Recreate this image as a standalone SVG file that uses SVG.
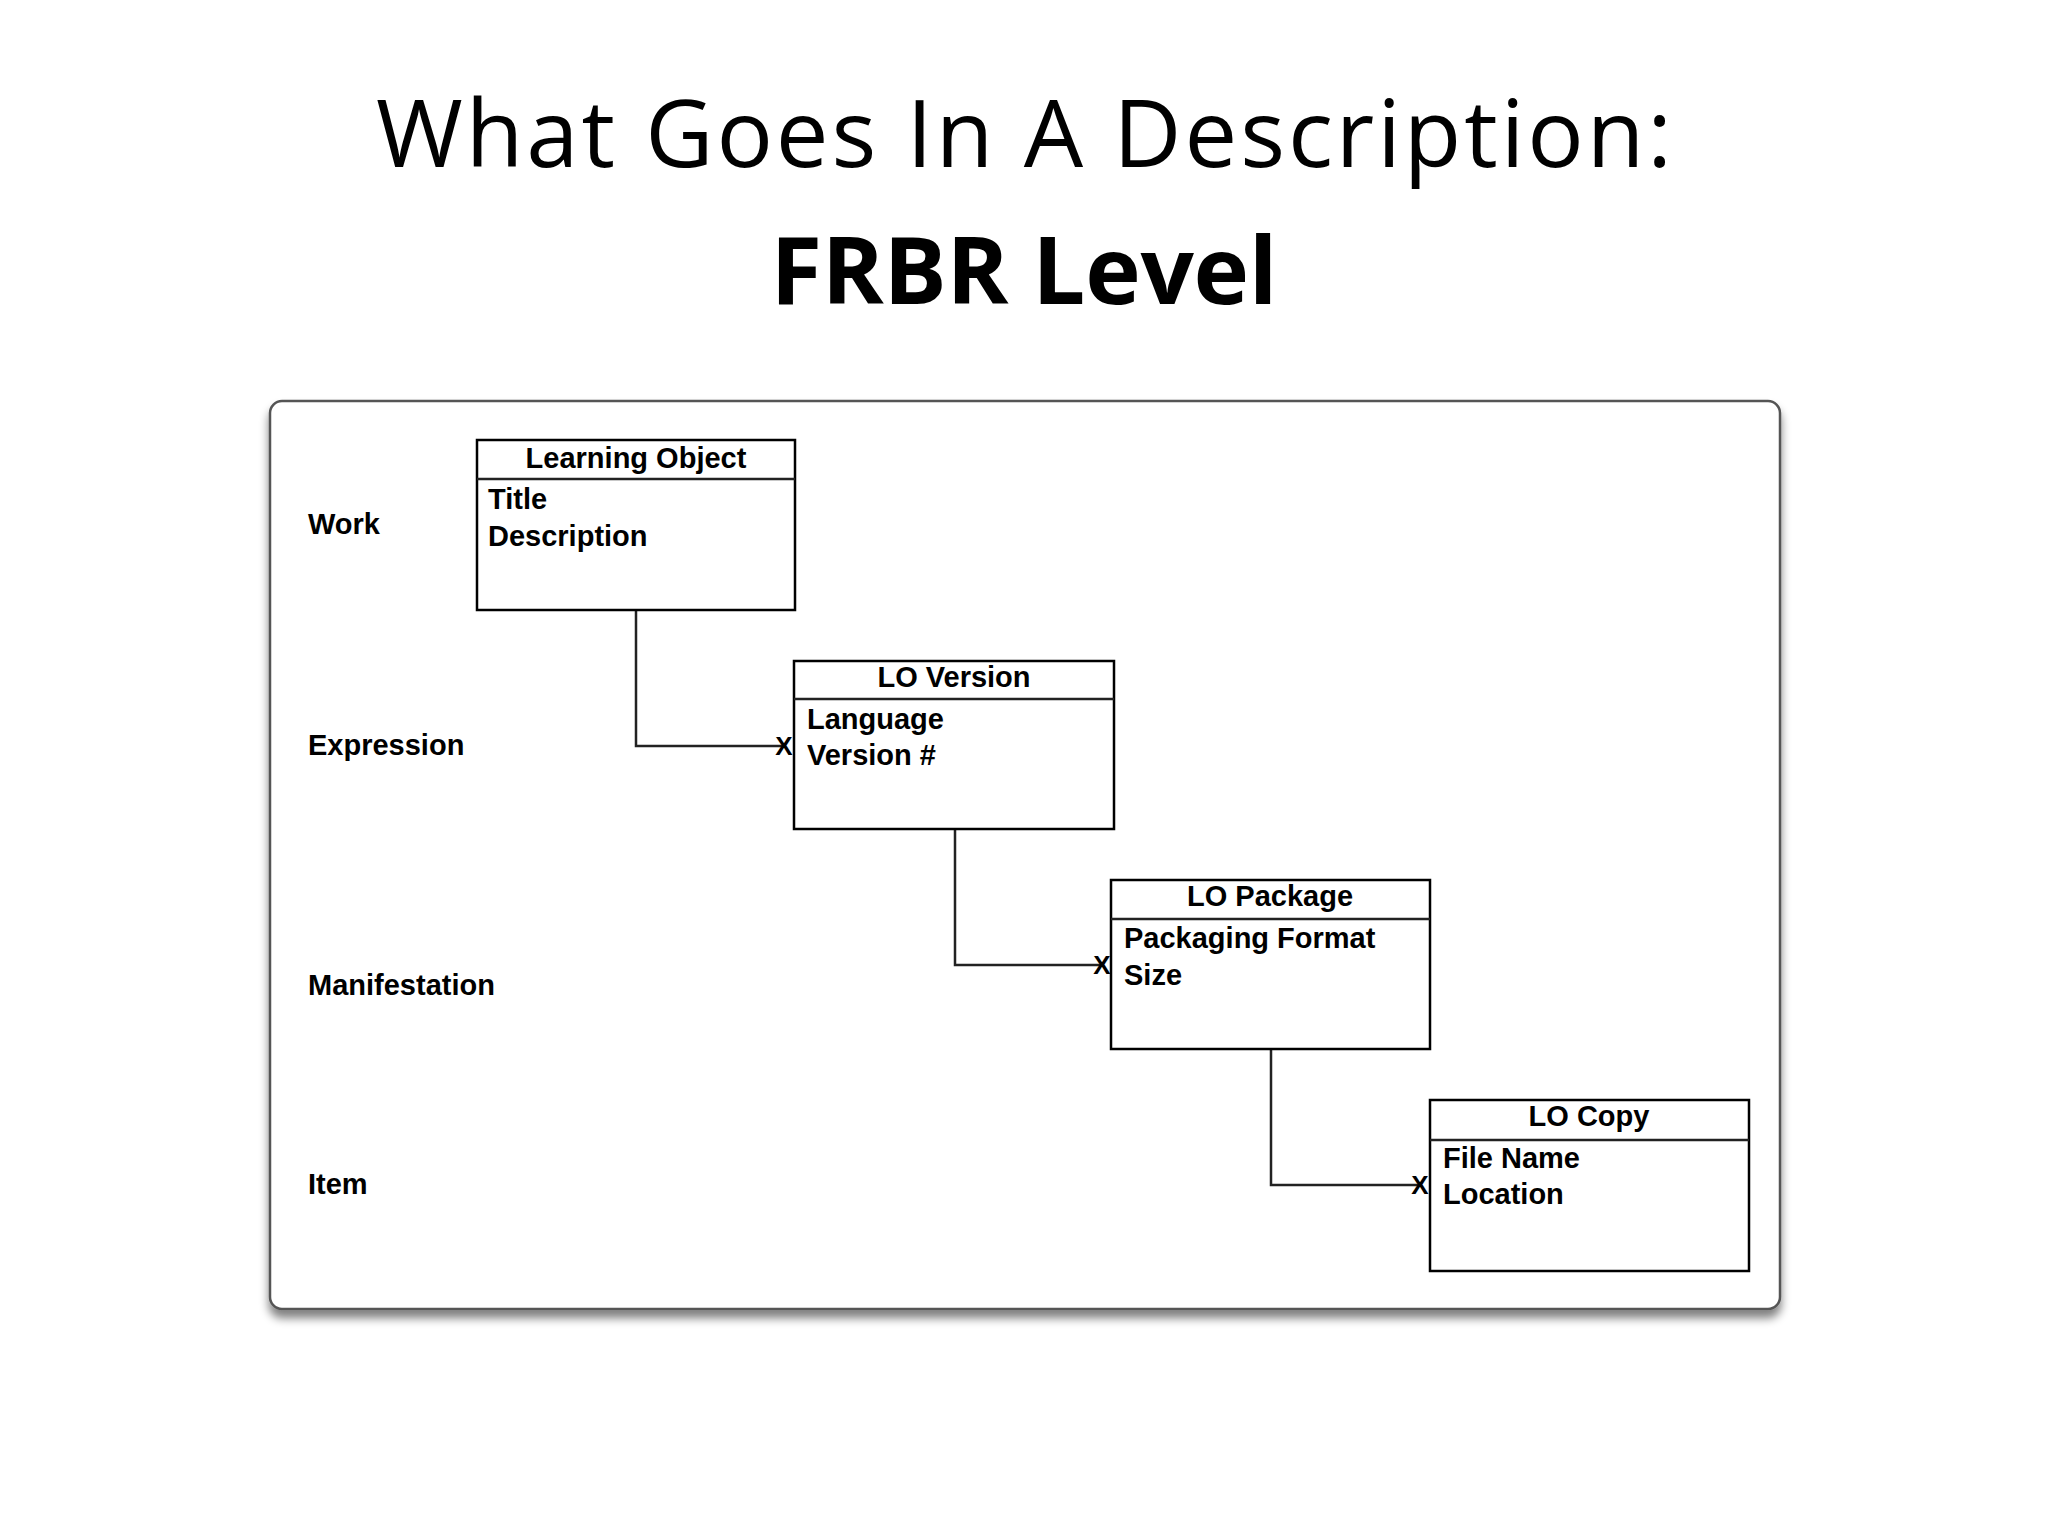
<svg xmlns="http://www.w3.org/2000/svg" width="2048" height="1536" viewBox="0 0 2048 1536">
<style>
.t{font-family:"Open Sans","Liberation Sans",sans-serif;fill:#000;text-anchor:middle}
.box{fill:#fff;stroke:#000;stroke-width:2.5}
.h{font-family:"Liberation Sans",Arial,sans-serif;font-weight:bold;font-size:29px;text-anchor:middle}
.a{font-family:"Liberation Sans",Arial,sans-serif;font-weight:bold;font-size:29px}
.c{fill:none;stroke:#222;stroke-width:2.5}
.x{font-family:"Liberation Sans",Arial,sans-serif;font-weight:bold;font-size:26px;text-anchor:middle}
</style>
<defs><filter id="sh" x="-5%" y="-5%" width="110%" height="115%"><feGaussianBlur in="SourceAlpha" stdDeviation="5"/><feOffset dy="8"/><feComponentTransfer><feFuncA type="linear" slope="0.5"/></feComponentTransfer><feMerge><feMergeNode/><feMergeNode in="SourceGraphic"/></feMerge></filter></defs>
<rect width="2048" height="1536" fill="#fff"/>
<text class="t" x="1024" y="167" font-size="94" textLength="1296">What Goes In A Description:</text>
<text class="t" x="1024" y="304" font-size="94" font-weight="bold" textLength="507">FRBR Level</text>
<rect x="270" y="401" width="1510" height="908" rx="12" fill="#fff" stroke="#555" stroke-width="2.5" filter="url(#sh)"/>
<g id="levels" class="a">
<text x="308" y="534">Work</text>
<text x="308" y="755">Expression</text>
<text x="308" y="995">Manifestation</text>
<text x="308" y="1194">Item</text>
</g>
<g id="connectors">
<path class="c" d="M636 610V746H784"/>
<text class="x" x="784" y="755">X</text>
<path class="c" d="M955 829V965H1101"/>
<text class="x" x="1102" y="974">X</text>
<path class="c" d="M1271 1049V1185H1420"/>
<text class="x" x="1420" y="1194">X</text>
</g>
<g id="learning-object">
<rect class="box" x="477" y="440" width="318" height="170"/><path class="c" d="M477 479H795"/>
<text class="h" x="636" y="468">Learning Object</text>
<text class="a" x="488" y="509">Title</text><text class="a" x="488" y="546">Description</text>
</g>
<g id="lo-version">
<rect class="box" x="794" y="661" width="320" height="168"/><path class="c" d="M794 699H1114"/>
<text class="h" x="954" y="687">LO Version</text>
<text class="a" x="807" y="729">Language</text><text class="a" x="807" y="765">Version #</text>
</g>
<g id="lo-package">
<rect class="box" x="1111" y="880" width="319" height="169"/><path class="c" d="M1111 919H1430"/>
<text class="h" x="1270" y="906">LO Package</text>
<text class="a" x="1124" y="948">Packaging Format</text><text class="a" x="1124" y="985">Size</text>
</g>
<g id="lo-copy">
<rect class="box" x="1430" y="1100" width="319" height="171"/><path class="c" d="M1430 1140H1749"/>
<text class="h" x="1589" y="1126">LO Copy</text>
<text class="a" x="1443" y="1168">File Name</text><text class="a" x="1443" y="1204">Location</text>
</g>
</svg>
